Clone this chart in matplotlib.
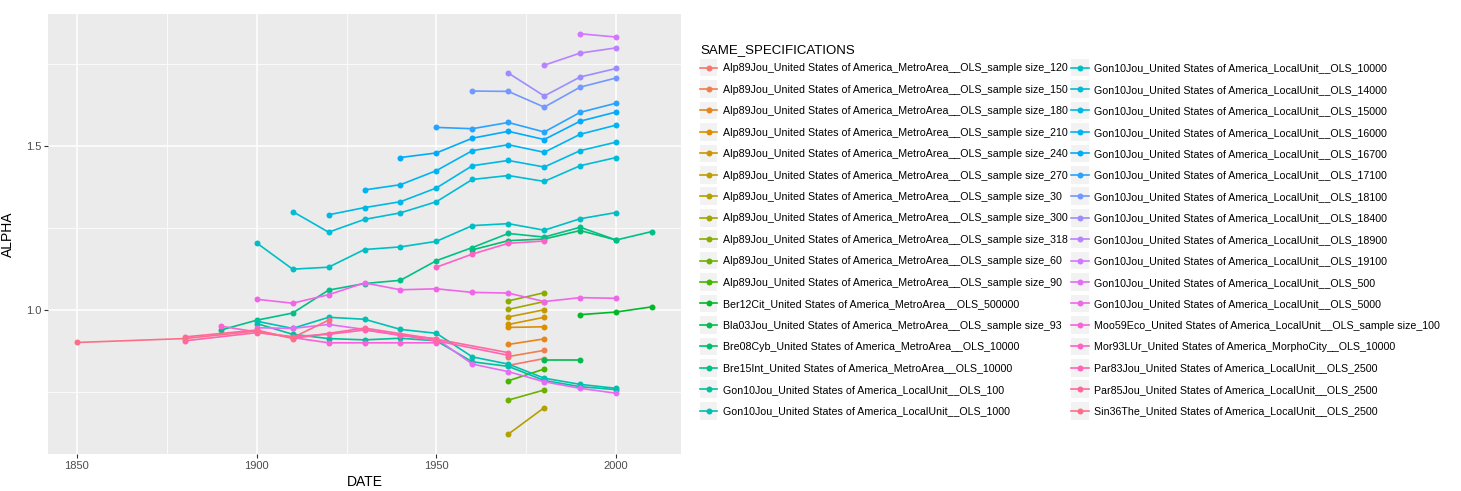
import numpy as np
import matplotlib
matplotlib.use("Agg")
import matplotlib.pyplot as plt
from matplotlib.legend_handler import HandlerLine2D
from matplotlib.patches import Rectangle
from matplotlib.ticker import MultipleLocator

plt.rcParams["font.family"] = ["Liberation Sans", "DejaVu Sans"]

# --------------------------------------------------------------------------- #
# Data
# --------------------------------------------------------------------------- #
LABELS = [
    "Alp89Jou_United States of America_MetroArea__OLS_sample size_120",
    "Alp89Jou_United States of America_MetroArea__OLS_sample size_150",
    "Alp89Jou_United States of America_MetroArea__OLS_sample size_180",
    "Alp89Jou_United States of America_MetroArea__OLS_sample size_210",
    "Alp89Jou_United States of America_MetroArea__OLS_sample size_240",
    "Alp89Jou_United States of America_MetroArea__OLS_sample size_270",
    "Alp89Jou_United States of America_MetroArea__OLS_sample size_30",
    "Alp89Jou_United States of America_MetroArea__OLS_sample size_300",
    "Alp89Jou_United States of America_MetroArea__OLS_sample size_318",
    "Alp89Jou_United States of America_MetroArea__OLS_sample size_60",
    "Alp89Jou_United States of America_MetroArea__OLS_sample size_90",
    "Ber12Cit_United States of America_MetroArea__OLS_500000",
    "Bla03Jou_United States of America_MetroArea__OLS_sample size_93",
    "Bre08Cyb_United States of America_MetroArea__OLS_10000",
    "Bre15Int_United States of America_MetroArea__OLS_10000",
    "Gon10Jou_United States of America_LocalUnit__OLS_100",
    "Gon10Jou_United States of America_LocalUnit__OLS_1000",
    "Gon10Jou_United States of America_LocalUnit__OLS_10000",
    "Gon10Jou_United States of America_LocalUnit__OLS_14000",
    "Gon10Jou_United States of America_LocalUnit__OLS_15000",
    "Gon10Jou_United States of America_LocalUnit__OLS_16000",
    "Gon10Jou_United States of America_LocalUnit__OLS_16700",
    "Gon10Jou_United States of America_LocalUnit__OLS_17100",
    "Gon10Jou_United States of America_LocalUnit__OLS_18100",
    "Gon10Jou_United States of America_LocalUnit__OLS_18400",
    "Gon10Jou_United States of America_LocalUnit__OLS_18900",
    "Gon10Jou_United States of America_LocalUnit__OLS_19100",
    "Gon10Jou_United States of America_LocalUnit__OLS_500",
    "Gon10Jou_United States of America_LocalUnit__OLS_5000",
    "Moo59Eco_United States of America_LocalUnit__OLS_sample size_100",
    "Mor93LUr_United States of America_MorphoCity__OLS_10000",
    "Par83Jou_United States of America_LocalUnit__OLS_2500",
    "Par85Jou_United States of America_LocalUnit__OLS_2500",
    "Sin36The_United States of America_LocalUnit__OLS_2500",
]

D1900 = [1900, 1910, 1920, 1930, 1940, 1950, 1960, 1970, 1980, 1990, 2000]

YEARS = [
    [1970, 1980], [1970, 1980], [1970, 1980], [1970, 1980], [1970, 1980],
    [1970, 1980], [1970, 1980], [1970, 1980], [1970, 1980], [1970, 1980],
    [1970, 1980],
    [1990, 2000, 2010],                                            # Ber12Cit
    [1980, 1990],                                                  # Bla03Jou
    [1960, 1970, 1980, 1990, 2000],                                # Bre08Cyb
    [1890] + D1900 + [2010],                                       # Bre15Int
    D1900,                                                         # Gon 100
    D1900,                                                         # Gon 1000
    D1900,                                                         # Gon 10000
    D1900[1:],                                                     # Gon 14000
    D1900[2:],                                                     # Gon 15000
    D1900[3:],                                                     # Gon 16000
    D1900[4:],                                                     # Gon 16700
    D1900[5:],                                                     # Gon 17100
    D1900[6:],                                                     # Gon 18100
    D1900[7:],                                                     # Gon 18400
    D1900[8:],                                                     # Gon 18900
    D1900[9:],                                                     # Gon 19100
    D1900,                                                         # Gon 500
    D1900,                                                         # Gon 5000
    [1890, 1900, 1910, 1920, 1930, 1940, 1950],                    # Moo59Eco
    [1950, 1960, 1970, 1980],                                      # Mor93LUr
    [1880, 1900, 1910, 1920, 1930, 1940, 1950, 1970],              # Par83Jou
    [1880, 1900, 1910, 1930, 1950, 1970],                          # Par85Jou
    [1850, 1880, 1900, 1910, 1920],                                # Sin36The
]

ALPHA = [
    [0.830, 0.851], [0.857, 0.876], [0.894, 0.911], [0.946, 0.948],
    [0.955, 0.977], [0.978, 1.000], [0.620, 0.701], [1.001, 1.025],
    [1.027, 1.052], [0.724, 0.755], [0.783, 0.819],
    [0.985, 0.993, 1.009],
    [0.846, 0.846],
    [1.183, 1.211, 1.216, 1.242, 1.213],
    [0.938, 0.968, 0.990, 1.060, 1.080, 1.090, 1.150, 1.190, 1.233, 1.222, 1.252, 1.213, 1.239],
    [0.958, 0.925, 0.912, 0.908, 0.913, 0.905, 0.841, 0.827, 0.784, 0.765, 0.756],
    [0.965, 0.943, 0.977, 0.971, 0.940, 0.928, 0.856, 0.834, 0.791, 0.772, 0.760],
    [1.204, 1.124, 1.130, 1.184, 1.192, 1.209, 1.257, 1.263, 1.243, 1.278, 1.297],
    [1.300, 1.237, 1.276, 1.296, 1.330, 1.398, 1.410, 1.392, 1.440, 1.465],
    [1.290, 1.312, 1.330, 1.372, 1.440, 1.456, 1.436, 1.486, 1.512],
    [1.366, 1.382, 1.425, 1.486, 1.504, 1.481, 1.536, 1.564],
    [1.465, 1.479, 1.524, 1.545, 1.520, 1.576, 1.604],
    [1.557, 1.553, 1.572, 1.543, 1.603, 1.631],
    [1.668, 1.667, 1.619, 1.680, 1.708],
    [1.723, 1.653, 1.711, 1.737],
    [1.747, 1.784, 1.800],
    [1.843, 1.833],
    [0.945, 0.943, 0.955, 0.940, 0.922, 0.912, 0.834, 0.811, 0.780, 0.760, 0.745],
    [1.032, 1.020, 1.046, 1.082, 1.061, 1.064, 1.053, 1.051, 1.025, 1.037, 1.035],
    [0.950, 0.932, 0.915, 0.899, 0.899, 0.899, 0.899],
    [1.130, 1.170, 1.203, 1.210],
    [0.905, 0.930, 0.918, 0.925, 0.938, 0.922, 0.905, 0.861],
    [0.917, 0.938, 0.912, 0.944, 0.910, 0.869],
    [0.900, 0.912, 0.935, 0.915, 0.968],
]

X_TICKS = [1850, 1900, 1950, 2000]
Y_TICKS = [1.0, 1.5]
LEGEND_TITLE = "SAME_SPECIFICATIONS"


def hcl(h, c=100.0, l=65.0):
    """R's hcl() -> sRGB tuple (what ggplot's hue palette uses)."""
    xn, yn, zn = 95.047, 100.0, 108.883
    y = yn * ((l + 16) / 116) ** 3
    u = c * np.cos(np.radians(h))
    v = c * np.sin(np.radians(h))
    d = xn + 15 * yn + 3 * zn
    un, vn = 4 * xn / d, 9 * yn / d
    up = u / (13 * l) + un
    vp = v / (13 * l) + vn
    x = 9 * y * up / (4 * vp)
    z = -x / 3 - 5 * y + 3 * y / vp
    xyz = np.array([x, y, z]) / 100
    m = np.array([[3.2404542, -1.5371385, -0.4985314],
                  [-0.9692660, 1.8760108, 0.0415560],
                  [0.0556434, -0.2040259, 1.0572252]])
    rgb = m @ xyz
    rgb = np.where(rgb <= 0.0031308, 12.92 * rgb, 1.055 * np.abs(rgb) ** (1 / 2.4) - 0.055)
    return tuple(np.clip(rgb, 0, 1))


class KeyHandler(HandlerLine2D):
    """Legend key with ggplot's grey square behind line + point."""
    def create_artists(self, legend, orig_handle, xdescent, ydescent,
                       width, height, fontsize, trans):
        arts = super().create_artists(legend, orig_handle, xdescent, ydescent,
                                      width, height, fontsize, trans)
        side = width
        bg = Rectangle((-xdescent, -ydescent + height / 2 - side / 2), side, side,
                       facecolor="#F2F2F2", edgecolor="none", transform=trans)
        return [bg] + list(arts)


n = len(LABELS)
hues = 15 + 360 / n * np.arange(n)
colors = [hcl(h) for h in hues]

fig = plt.figure(figsize=(14.61, 4.91), dpi=100)
ax = fig.add_axes([0.033, 0.075, 0.433, 0.897])
ax.set_facecolor("#EBEBEB")

for lab, yrs, vals, col in zip(LABELS, YEARS, ALPHA, colors):
    ax.plot(yrs, vals, color=col, lw=1.2, marker="o", ms=4.3,
            markeredgewidth=0, label=lab)

ax.margins(x=0.05, y=0.05)
ax.set_xticks(X_TICKS)
ax.set_yticks(Y_TICKS)
ax.set_yticklabels([f"{v:.1f}" for v in Y_TICKS])
ax.xaxis.set_minor_locator(MultipleLocator(25))
ax.yaxis.set_minor_locator(MultipleLocator(0.25))
ax.grid(which="major", color="white", lw=1.1)
ax.grid(which="minor", color="white", lw=0.55)
ax.set_axisbelow(True)
for s in ax.spines.values():
    s.set_visible(False)
ax.tick_params(which="major", length=3, width=0.8, color="#333333",
               labelsize=8, labelcolor="#4D4D4D", pad=2)
ax.tick_params(which="minor", length=0)
ax.set_xlabel("DATE", fontsize=10, labelpad=3)
ax.set_ylabel("ALPHA", fontsize=10, labelpad=8)

# legend: title as its own text so the gap matches ggplot's layout
fig.text(700 / 1461, 1 - 50 / 491, LEGEND_TITLE, fontsize=9.5, ha="left", va="center")
handles, labels = ax.get_legend_handles_labels()
leg = fig.legend(handles, labels, loc="upper left", bbox_to_anchor=(0.479, 0.871),
                 ncol=2, frameon=False, fontsize=7.7, handlelength=1.65,
                 handletextpad=0.5, labelspacing=1.07, columnspacing=0.3,
                 borderpad=0, borderaxespad=0,
                 handler_map={matplotlib.lines.Line2D: KeyHandler()})

fig.savefig("out.png", dpi=100)
